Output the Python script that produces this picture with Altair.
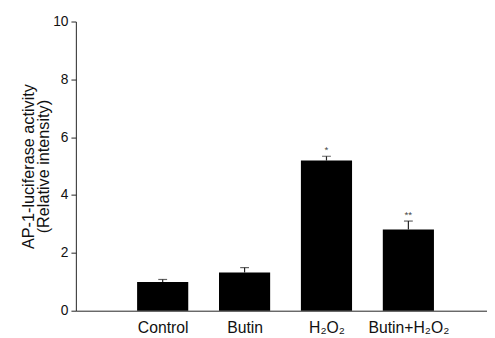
import altair as alt
import pandas as pd
import json

categories = ["Control", "Butin", "H₂O₂", "Butin+H₂O₂"]
positions = [1, 2, 3, 4]
values = [0.99, 1.32, 5.19, 2.81]
errors = [0.09, 0.17, 0.15, 0.29]
marks = ["", "", "*", "**"]

df = pd.DataFrame({
    "pos": positions,
    "cat": categories,
    "val": values,
    "err": errors,
    "top": [v + e for v, e in zip(values, errors)],
    "mark": marks,
})

label_arr = json.dumps([""] + categories, ensure_ascii=False)
label_expr = f"{label_arr}[datum.value]"

xscale = alt.Scale(domain=[0, 4.9], nice=False, zero=False)
yscale = alt.Scale(domain=[0, 10], nice=False)

x_axis = alt.Axis(values=positions, labelExpr=label_expr, ticks=False, grid=False,
                  labelFont="Liberation Sans", labelFontSize=16, labelColor="#111",
                  labelPadding=9, domainColor="#222", title=None, labelFlush=False)
y_axis = alt.Axis(values=[0, 2, 4, 6, 8, 10], grid=False, tickSize=5, tickColor="#222",
                  domainColor="#222", labelFont="Liberation Sans", labelFontSize=14,
                  labelColor="#111", labelPadding=3,
                  title=["AP-1-luciferase activity", "(Relative intensity)"],
                  titleFont="Liberation Sans", titleFontSize=16.5, titleFontWeight="normal",
                  titleColor="#111", titlePadding=1, titleLineHeight=15)

base = alt.Chart(df)

bars = base.mark_bar(size=52, color="black").encode(
    x=alt.X("pos:Q", scale=xscale, axis=x_axis),
    y=alt.Y("val:Q", scale=yscale, axis=y_axis),
)

err_rule = base.mark_rule(color="#222", strokeWidth=1.2).encode(
    x="pos:Q", y="val:Q", y2="top:Q"
)

caps = base.mark_tick(color="#222", orient="horizontal", size=9, thickness=1.2).encode(
    x="pos:Q", y="top:Q"
)

stars = base.mark_text(color="#444", fontSize=10, font="Liberation Sans", dy=-6).encode(
    x="pos:Q", y="top:Q", text="mark:N"
)

chart = alt.layer(bars, err_rule, caps, stars).properties(
    width=418, height=294,
    autosize=alt.AutoSizeParams(type="none"),
    padding={"left": 69, "top": 11, "right": 0, "bottom": 25},
).configure_view(stroke=None)

chart.save("out.html", embed_options={"renderer": "svg", "actions": False})
